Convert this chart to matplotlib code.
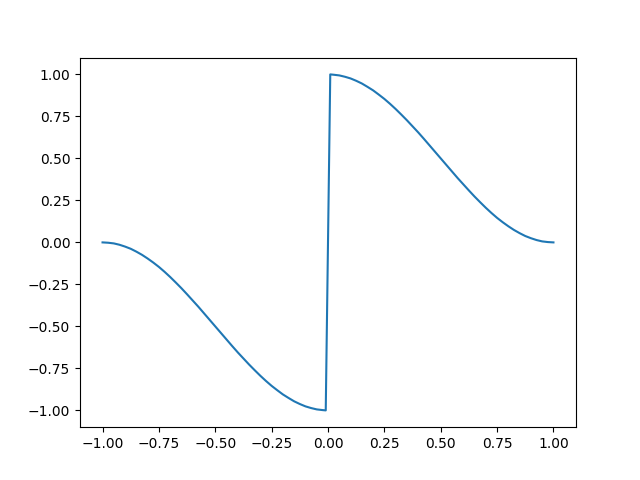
import matplotlib
matplotlib.use("Agg")
import matplotlib.pyplot as plt

# values
x_left = [-1.0, -0.975, -0.95, -0.925, -0.9, -0.875, -0.85, -0.825, -0.8, -0.775,
          -0.75, -0.725, -0.7, -0.675, -0.65, -0.625, -0.6, -0.575, -0.55, -0.525,
          -0.5, -0.475, -0.45, -0.425, -0.4, -0.375, -0.35, -0.325, -0.3, -0.275,
          -0.25, -0.225, -0.2, -0.175, -0.15, -0.125, -0.1, -0.075, -0.05, -0.025, -0.01]
y_left = [0.0, -0.002, -0.006, -0.014, -0.025, -0.038, -0.055, -0.074, -0.096, -0.120,
          -0.146, -0.175, -0.206, -0.239, -0.273, -0.309, -0.346, -0.383, -0.422, -0.461,
          -0.5, -0.539, -0.578, -0.617, -0.655, -0.691, -0.727, -0.761, -0.794, -0.825,
          -0.854, -0.880, -0.905, -0.926, -0.946, -0.962, -0.976, -0.986, -0.994, -0.998, -1.0]
x_right = [0.01, 0.025, 0.05, 0.075, 0.1, 0.125, 0.15, 0.175, 0.2, 0.225,
           0.25, 0.275, 0.3, 0.325, 0.35, 0.375, 0.4, 0.425, 0.45, 0.475,
           0.5, 0.525, 0.55, 0.575, 0.6, 0.625, 0.65, 0.675, 0.7, 0.725,
           0.75, 0.775, 0.8, 0.825, 0.85, 0.875, 0.9, 0.925, 0.95, 0.975, 1.0]
y_right = [1.0, 0.998, 0.994, 0.986, 0.976, 0.962, 0.946, 0.926, 0.905, 0.880,
           0.854, 0.825, 0.794, 0.761, 0.727, 0.691, 0.655, 0.617, 0.578, 0.539,
           0.5, 0.461, 0.422, 0.383, 0.346, 0.309, 0.273, 0.239, 0.206, 0.175,
           0.146, 0.120, 0.096, 0.074, 0.055, 0.038, 0.025, 0.014, 0.006, 0.002, 0.0]

x = x_left + x_right
y = y_left + y_right

fig, ax = plt.subplots(figsize=(6.4, 4.8), dpi=100)
ax.plot(x, y)
fig.savefig("out.png")
